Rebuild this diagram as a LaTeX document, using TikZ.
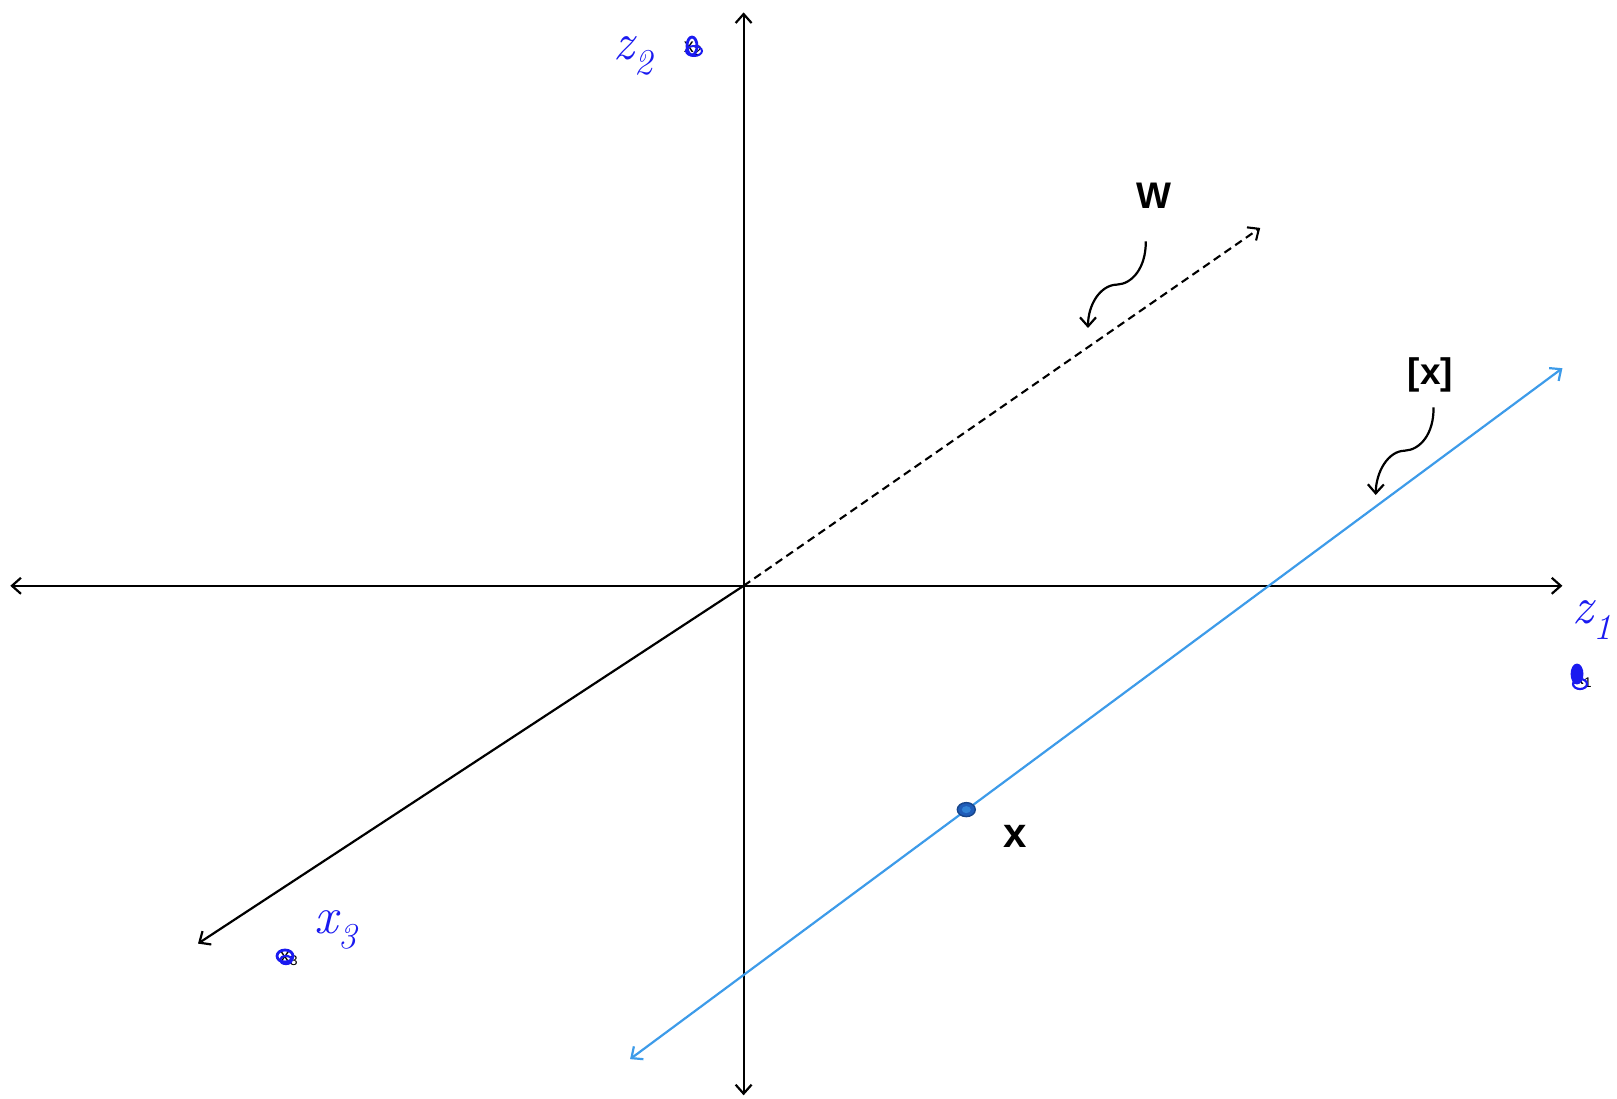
\documentclass[tikz,border=0pt]{standalone}
\usepackage{fontspec}
\setsansfont{Liberation Sans}
\usetikzlibrary{arrows.meta,shapes.geometric}
\definecolor{lineblue}{HTML}{3D9BE9}
\definecolor{penblue}{HTML}{1A1AF0}
\definecolor{dotblue}{HTML}{1F5CB8}
\begin{document}
\begin{tikzpicture}[x=1pt,y=-1pt,
  axis/.style={line width=2.2pt,{Straight Barb[length=9pt,width=16pt]}-{Straight Barb[length=9pt,width=16pt]}},
  oneaxis/.style={line width=2.2pt,-{Straight Barb[length=9pt,width=16pt]}},
  bigtext/.style={font=\sffamily\bfseries\fontsize{34}{38}\selectfont,inner sep=0pt},
  smalltext/.style={font=\sffamily\fontsize{20}{22}\selectfont,inner sep=0pt},
  pentext/.style={text=penblue,font=\itshape\fontsize{52}{56}\selectfont,inner sep=0pt},
  pointer/.style={line width=2.2pt,-{Straight Barb[length=9pt,width=16pt]}},
  scribble/.style={penblue,line width=2.8pt}]
\useasboundingbox (0,0) rectangle (1617,1099);
\coordinate (O) at (743.6,585.8);
\coordinate (top) at (743.6,12.4);
\coordinate (bot) at (743.6,1095.3);
\coordinate (left) at (10.3,585.8);
\coordinate (right) at (1562.4,585.8);
\coordinate (e3) at (198,943.6);
\coordinate (wend) at (1260.2,227.9);
\coordinate (la) at (630.1,1059.1);
\coordinate (lb) at (1562.4,368.2);
% axes
\draw[axis] (left) -- (right);
\draw[axis] (bot) -- (top);
\draw[oneaxis] (O) -- (e3);
\draw[line width=2.1pt,dash pattern=on 8pt off 5pt,-{Straight Barb[length=9pt,width=16pt]}] (O) -- (wend);
\draw[lineblue,line width=2.2pt,{Straight Barb[length=9pt,width=16pt]}-{Straight Barb[length=9pt,width=16pt]}] (la) -- (lb);
% point x
\node[draw=dotblue!75!black,fill=dotblue,ellipse,minimum width=18pt,minimum height=14pt,inner sep=0pt,line width=1.4pt] (px) at (966.3,809.6) {};
\fill[lineblue!60!dotblue] (px.center) ellipse (4.5pt and 3.5pt);
\node[bigtext,font=\sffamily\bfseries\fontsize{42}{44}\selectfont] (xlab) at (1015,836) {x};
% W label and pointer
\node[bigtext,font=\sffamily\bfseries\fontsize{37}{40}\selectfont] (wlab) at (1154,196) {W};
\coordinate (ws) at (1145.8,241.3);
\coordinate (wm) at (1117,284.6);
\coordinate (we) at (1088,328);
\draw[pointer] (ws) .. controls (1146,268) and (1132,284) .. (wm) .. controls (1100,285) and (1088,305) .. (we);
% [x] label and pointer
\node[bigtext,font=\sffamily\bfseries\fontsize{37}{40}\selectfont] (clab) at (1430.4,375.4) {[x]};
\coordinate (cs) at (1433.5,407.4);
\coordinate (cm) at (1404.6,450.7);
\coordinate (ce) at (1375.7,495);
\draw[pointer] (cs) .. controls (1434,434) and (1420,450) .. (cm) .. controls (1388,451) and (1376,472) .. (ce);
% small axis labels with scribbles
\node[smalltext] (x2) at (693,48.5) {x\textsubscript{2}};
\draw[scribble] (692,46) ellipse (5pt and 9pt);
\draw[scribble,line width=2pt] (694,51) ellipse (8pt and 5pt);
\node[smalltext] (x1) at (1583,681) {x\textsubscript{1}};
\draw[scribble,fill=penblue] (1577,674) ellipse (5pt and 9pt);
\draw[scribble,line width=2.2pt] (1580,684) ellipse (7pt and 5pt);
\node[smalltext] (x3) at (289,959) {x\textsubscript{3}};
\draw[scribble] (285,956) ellipse (8pt and 6pt);
\draw[scribble,line width=2.2pt] (286,960) ellipse (6pt and 4pt);
% handwritten labels
\node[pentext] (z2) at (633,56) {z\textsubscript{2}};
\node[pentext] (z1) at (1592,620) {z\textsubscript{1}};
\node[pentext] (x3h) at (336,930) {x\textsubscript{3}};
\end{tikzpicture}
\end{document}
